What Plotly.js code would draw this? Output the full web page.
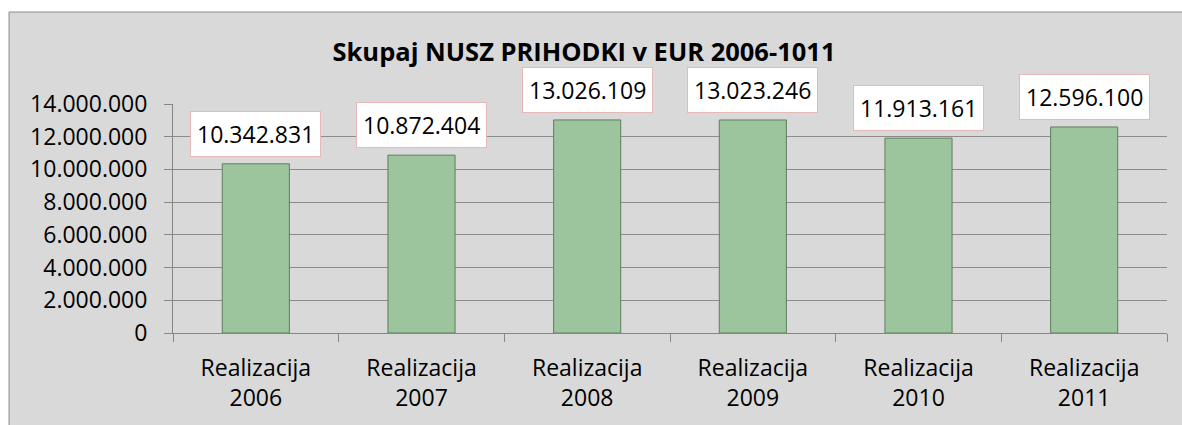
<!DOCTYPE html>
<html>
<head>
<meta charset="utf-8">
<script src="https://cdn.plot.ly/plotly-3.0.1.min.js"></script>
<style>html,body{margin:0;padding:0;background:#fff;}#chart{width:1182px;height:425px;}</style>
</head>
<body>
<div id="chart"></div>
<script>
const categories = ["Realizacija<br>2006", "Realizacija<br>2007", "Realizacija<br>2008", "Realizacija<br>2009", "Realizacija<br>2010", "Realizacija<br>2011"];
const values = [10342831, 10872404, 13026109, 13023246, 11913161, 12596100];
const yTicks = [0, 2000000, 4000000, 6000000, 8000000, 10000000, 12000000, 14000000];
const titleText = "Skupaj NUSZ PRIHODKI v EUR 2006-1011";

function fmt(v) {
  return String(v).replace(/\B(?=(\d{3})+(?!\d))/g, ".");
}

const FONT = "Open Sans, Noto Sans, sans-serif";
const W = 1182, H = 425;
const L = 173, R = 15, T = 104, B = 92;
const pw = W - L - R, ph = H - T - B;
const px = x => (x - L) / pw;
const py = y => (H - B - y) / ph;

const trace = {
  type: "bar",
  x: categories,
  y: values,
  width: 0.405,
  marker: {color: "#9dc59d", line: {color: "#5f7d5f", width: 1}},
  hoverinfo: "skip"
};

const annotations = values.map((v, i) => ({
  x: categories[i], y: v, xref: "x", yref: "y",
  text: fmt(v), showarrow: false,
  yanchor: "bottom", yshift: 7,
  bgcolor: "#ffffff", bordercolor: "#e6b9b8", borderwidth: 1, borderpad: 6,
  font: {family: FONT, size: 23, color: "#000"}
}));

const layout = {
  width: W, height: H,
  margin: {l: L, r: R, t: T, b: B, pad: 0},
  paper_bgcolor: "#ffffff",
  plot_bgcolor: "#ffffff",
  separators: ",.",
  showlegend: false,
  title: {text: "<b>" + titleText + "</b>", x: 584 / W, xanchor: "center", y: 1 - 52 / H, yanchor: "middle", yref: "container", xref: "container",
    font: {family: FONT, size: 25.5, color: "#000"}},
  xaxis: {
    type: "category",
    tickson: "boundaries", ticks: "outside", ticklen: 8, tickcolor: "#868686", tickwidth: 1,
    ticklabelstandoff: 14,
    showline: true, linecolor: "#868686", linewidth: 1,
    showgrid: false, zeroline: false,
    tickfont: {family: FONT, size: 23, color: "#000"},
    fixedrange: true
  },
  yaxis: {
    range: [0, 14000000],
    tickvals: yTicks,
    tickformat: ",d",
    ticks: "outside", ticklen: 8, tickcolor: "#868686", tickwidth: 1,
    ticklabelstandoff: 12,
    showline: true, linecolor: "#868686", linewidth: 1,
    showgrid: true, gridcolor: "#8c8c8c", gridwidth: 1,
    zeroline: false,
    tickfont: {family: FONT, size: 23, color: "#000"},
    fixedrange: true
  },
  shapes: [{
    type: "rect", xref: "paper", yref: "paper", layer: "below",
    x0: px(9), x1: px(1190), y0: py(440), y1: py(12),
    fillcolor: "#d9d9d9", line: {color: "#8c8c8c", width: 1}
  }],
  annotations: annotations
};

Plotly.newPlot("chart", [trace], layout, {displayModeBar: false, staticPlot: true});
</script>
</body>
</html>
